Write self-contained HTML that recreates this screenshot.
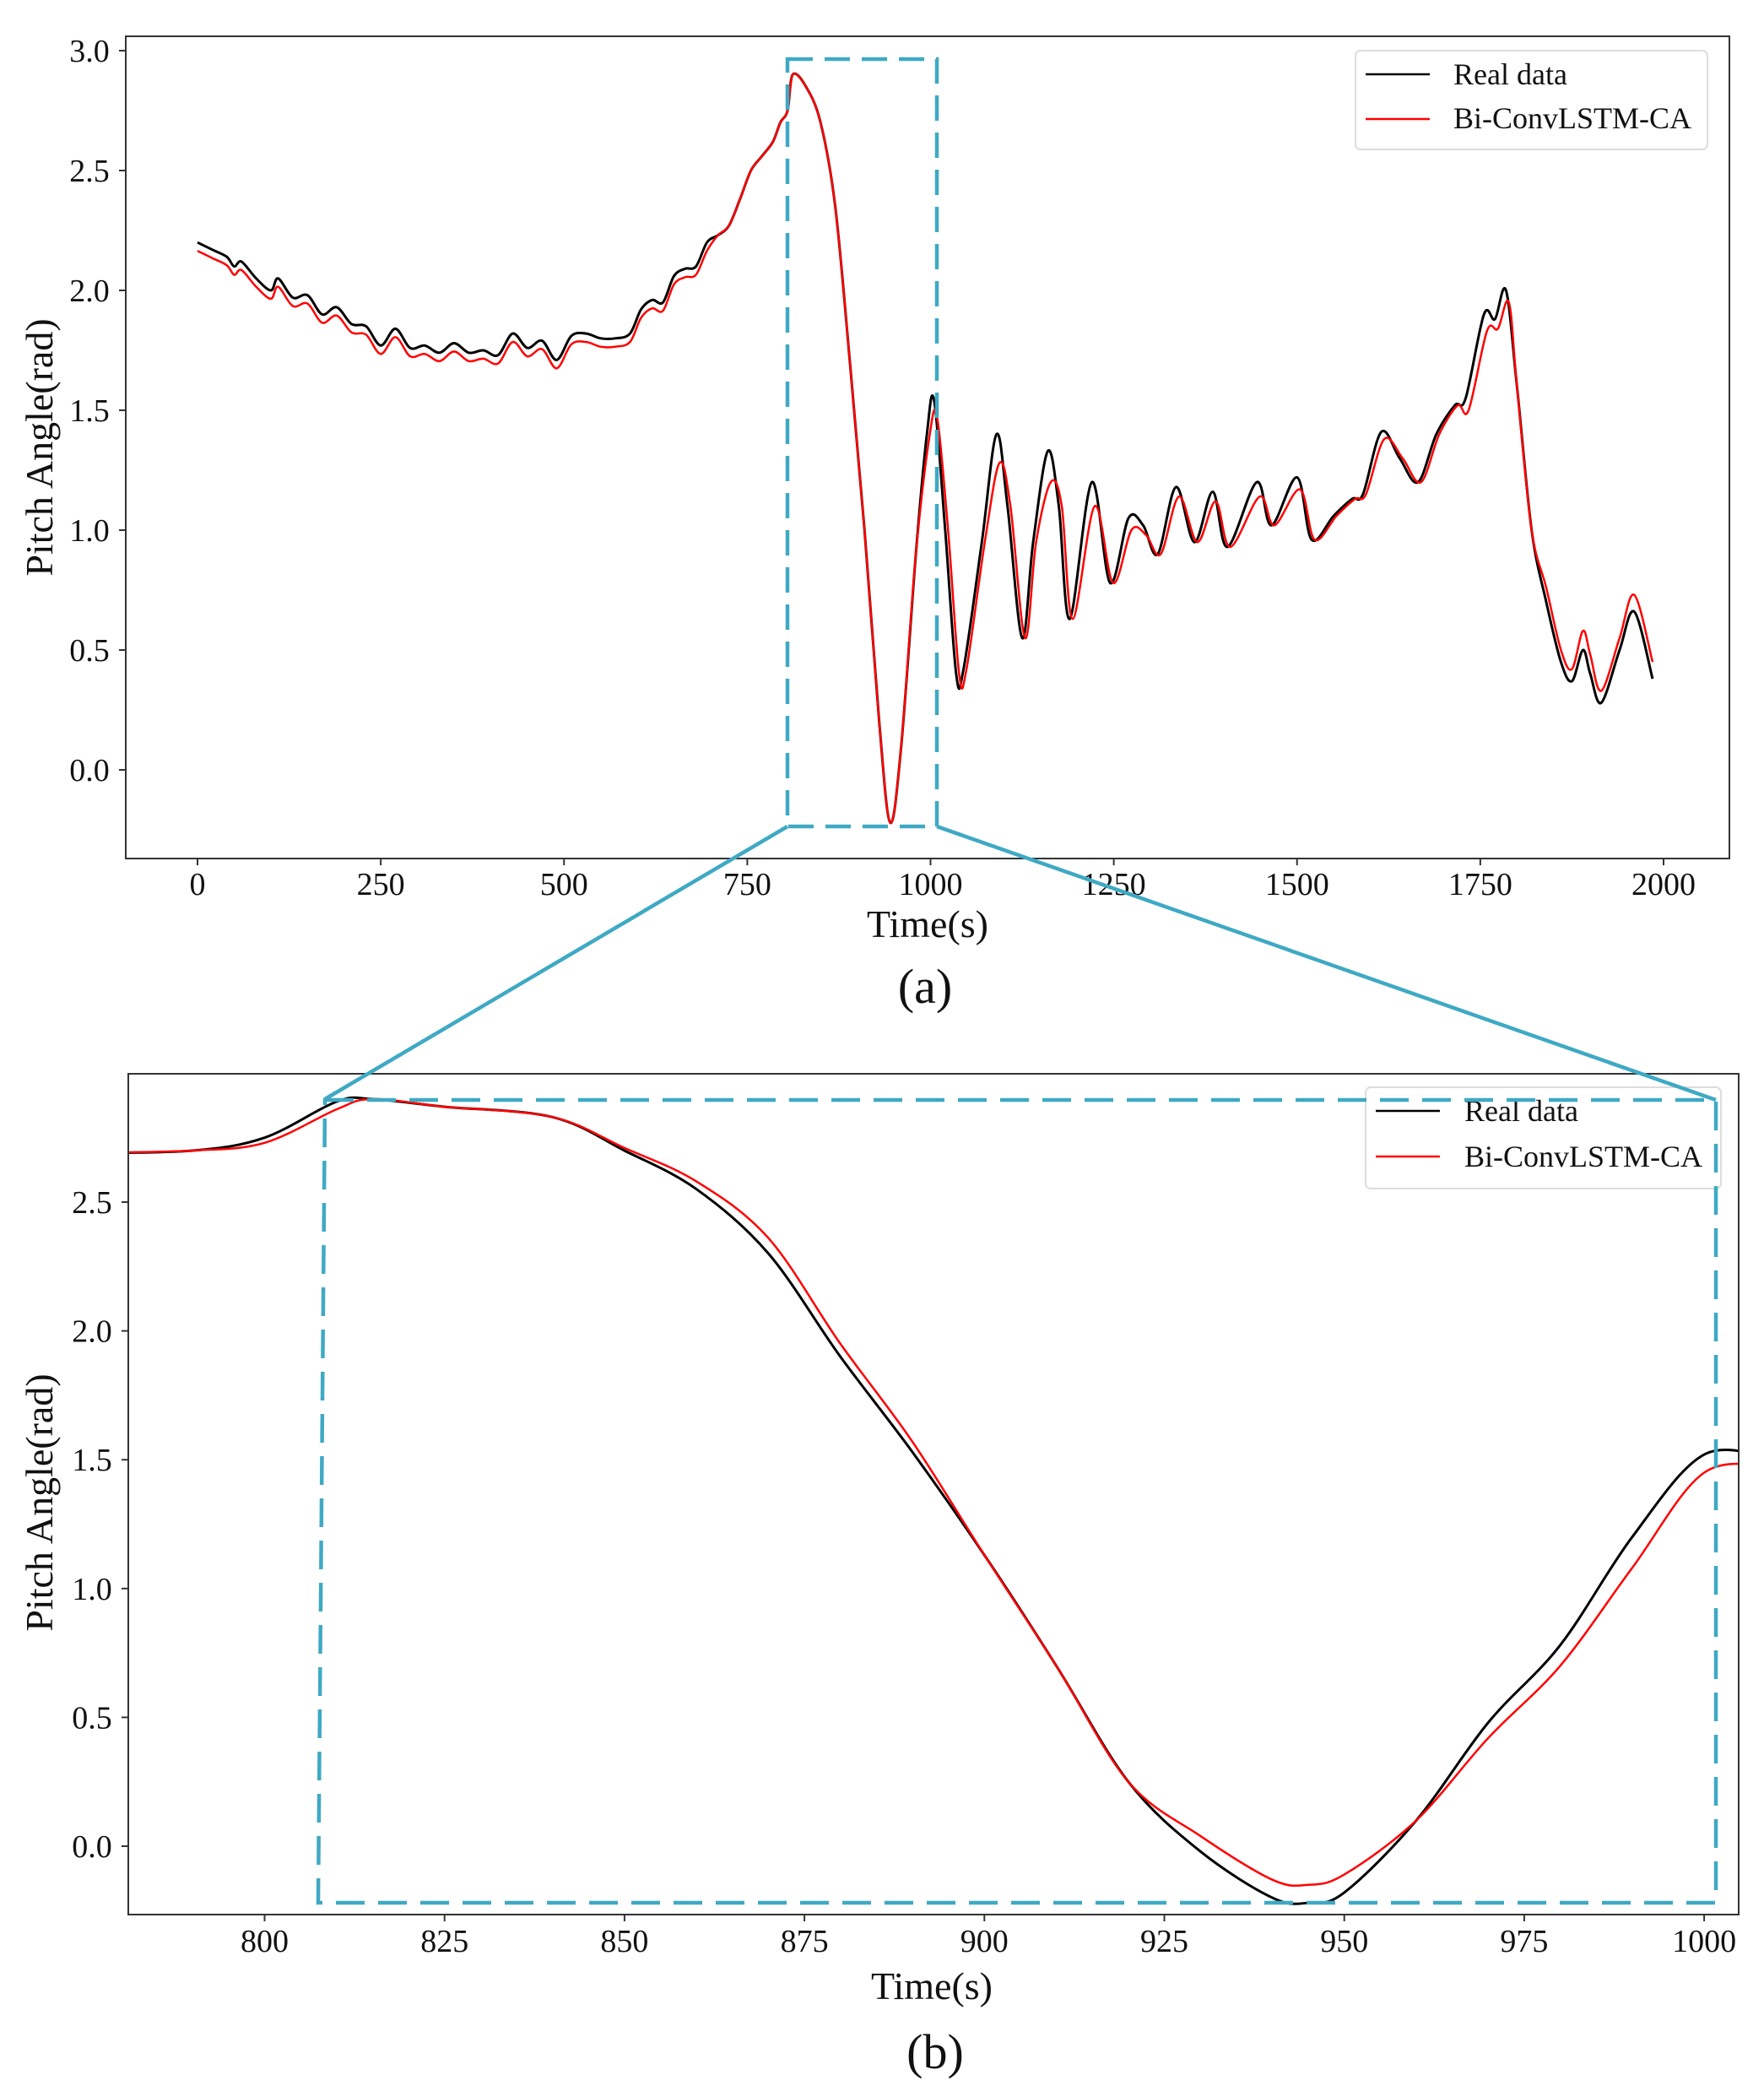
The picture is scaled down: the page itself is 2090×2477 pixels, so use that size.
<!DOCTYPE html>
<html><head><meta charset="utf-8"><style>
html,body{margin:0;padding:0;background:#fff}
svg{display:block}
text{font-family:"Liberation Serif",serif;fill:#111}
</style></head><body>
<svg id="s" width="2090" height="2477" viewBox="0 0 2090 2477" xmlns="http://www.w3.org/2000/svg">
<defs>
<clipPath id="ca"><rect x="149" y="43" width="1900" height="974"/></clipPath>
<clipPath id="cb"><rect x="152" y="1272" width="1908" height="996"/></clipPath>
</defs>
<rect width="2090" height="2477" fill="#fff"/>
<g id="ga" clip-path="url(#ca)"></g>
<rect x="149" y="43" width="1900" height="974" fill="none" stroke="#333" stroke-width="2"/>
<g id="ta" font-size="38" text-anchor="middle"></g>
<text x="1099" y="1110" font-size="46" text-anchor="middle">Time(s)</text>
<text x="62" y="530" font-size="46" text-anchor="middle" transform="rotate(-90 62 530)">Pitch Angle(rad)</text>
<text x="1096" y="1188" font-size="58" text-anchor="middle">(a)</text>
<rect x="1606" y="60" width="417" height="117" rx="6" fill="#fff" stroke="#ddd" stroke-width="2"/>
<line x1="1618" y1="88" x2="1694" y2="88" stroke="#000" stroke-width="2.5"/>
<line x1="1618" y1="141" x2="1694" y2="141" stroke="#f00" stroke-width="2.5"/>
<text x="1722" y="100" font-size="36">Real data</text>
<text x="1722" y="152" font-size="36">Bi-ConvLSTM-CA</text>
<g id="gb" clip-path="url(#cb)"></g>
<rect x="152" y="1272" width="1908" height="996" fill="none" stroke="#333" stroke-width="2"/>
<g id="tb" font-size="38" text-anchor="middle"></g>
<text x="1104" y="2368" font-size="46" text-anchor="middle">Time(s)</text>
<text x="62" y="1780" font-size="46" text-anchor="middle" transform="rotate(-90 62 1780)">Pitch Angle(rad)</text>
<text x="1108" y="2450" font-size="58" text-anchor="middle">(b)</text>
<rect x="1618" y="1288" width="421" height="120" rx="6" fill="#fff" stroke="#ddd" stroke-width="2"/>
<line x1="1630" y1="1316" x2="1706" y2="1316" stroke="#000" stroke-width="2.5"/>
<line x1="1630" y1="1370" x2="1706" y2="1370" stroke="#f00" stroke-width="2.5"/>
<text x="1735" y="1328" font-size="36">Real data</text>
<text x="1735" y="1382" font-size="36">Bi-ConvLSTM-CA</text>
<rect x="933" y="70" width="177" height="909" fill="none" stroke="#3fa9c4" stroke-width="4.5" stroke-dasharray="30,14"/>
<line x1="933" y1="979" x2="385" y2="1302" stroke="#3fa9c4" stroke-width="4.5"/>
<line x1="1110" y1="979" x2="2033" y2="1303" stroke="#3fa9c4" stroke-width="4.5"/>
<path d="M385 1303 L2033 1303 L2033 2254 L377 2254 Z" fill="none" stroke="#3fa9c4" stroke-width="4.5" stroke-dasharray="34,16"/>
</svg>
<script>
var NS="http://www.w3.org/2000/svg";
function el(p,t,a,txt){var e=document.createElementNS(NS,t);for(var k in a)e.setAttribute(k,a[k]);if(txt!==undefined)e.textContent=txt;p.appendChild(e);return e;}
function path(pts,fx,fy){var P=pts.map(function(p){return [fx(p[0]),fy(p[1])]});var d="M"+P[0][0].toFixed(1)+" "+P[0][1].toFixed(1);
for(var i=0;i<P.length-1;i++){var p0=P[i-1]||P[i],p1=P[i],p2=P[i+1],p3=P[i+2]||p2;
var c1=[p1[0]+(p2[0]-p0[0])/6,p1[1]+(p2[1]-p0[1])/6],c2=[p2[0]-(p3[0]-p1[0])/6,p2[1]-(p3[1]-p1[1])/6];
d+=" C"+c1[0].toFixed(1)+" "+c1[1].toFixed(1)+" "+c2[0].toFixed(1)+" "+c2[1].toFixed(1)+" "+p2[0].toFixed(1)+" "+p2[1].toFixed(1);}return d;}
var realA=[[0,2.2],[20,2.17],[40,2.14],[50,2.1],[60,2.12],[80,2.05],[100,2.0],[110,2.05],[130,1.97],[150,1.98],[170,1.9],[190,1.93],[210,1.86],[230,1.85],[250,1.77],[270,1.84],[290,1.76],[310,1.77],[330,1.74],[350,1.78],[370,1.74],[390,1.75],[410,1.73],[430,1.82],[450,1.76],[470,1.79],[490,1.71],[510,1.81],[530,1.82],[550,1.8],[570,1.8],[590,1.82],[605,1.92],[620,1.96],[635,1.95],[650,2.06],[665,2.09],[680,2.1],[695,2.2],[710,2.23],[725,2.27],[740,2.38],[755,2.5],[770,2.56],[785,2.62],[795,2.7],[805,2.75],[812,2.9],[830,2.85],[850,2.7],[870,2.35],[890,1.7],[910,1.0],[930,0.2],[945,-0.22],[960,0.1],[980,0.9],[995,1.4],[1005,1.54],[1020,1.0],[1035,0.4],[1045,0.42],[1070,0.95],[1090,1.4],[1105,1.1],[1125,0.55],[1140,0.95],[1160,1.33],[1175,1.1],[1190,0.63],[1220,1.2],[1245,0.78],[1270,1.05],[1290,1.02],[1310,0.9],[1335,1.18],[1360,0.95],[1385,1.16],[1405,0.93],[1445,1.2],[1465,1.02],[1500,1.22],[1520,0.96],[1550,1.06],[1575,1.13],[1590,1.15],[1615,1.41],[1640,1.3],[1665,1.2],[1690,1.4],[1715,1.52],[1730,1.55],[1755,1.9],[1770,1.88],[1785,2.0],[1800,1.6],[1820,1.0],[1840,0.7],[1860,0.45],[1875,0.37],[1890,0.5],[1900,0.4],[1915,0.28],[1940,0.5],[1960,0.66],[1985,0.38]];
var mod={1005:1.47,1090:1.28,1160:1.2,1220:1.1,1270:1.0,1290:0.98,1335:1.14,1385:1.12,1445:1.14,1500:1.17,1615:1.38,1730:1.5,1755:1.83,1770:1.84,1785:1.95,1840:0.76,1860:0.5,1875:0.42,1890:0.58,1900:0.48,1915:0.33,1940:0.55,1960:0.73,1985:0.45};
var redA=realA.map(function(p){var t=p[0],v=p[1];if(mod[t]!==undefined)v=mod[t];else if(t<700)v-=0.035;return [t+(t>980&&t<1800?4:0),v];});
var fxa=function(t){return 234+t*0.8685},fya=function(v){return 912-v*284};
var ga=document.getElementById("ga");
el(ga,"path",{d:path(realA,fxa,fya),fill:"none",stroke:"#000","stroke-width":3});
el(ga,"path",{d:path(redA,fxa,fya),fill:"none",stroke:"#f00","stroke-width":2.5});
var ta=document.getElementById("ta");
[0,250,500,750,1000,1250,1500,1750,2000].forEach(function(t){var x=fxa(t);el(ta,"line",{x1:x,y1:1017,x2:x,y2:1025,stroke:"#333","stroke-width":2});el(ta,"text",{x:x,y:1060},""+t);});
[0,0.5,1,1.5,2,2.5,3].forEach(function(v){var y=fya(v);el(ta,"line",{x1:141,y1:y,x2:149,y2:y,stroke:"#333","stroke-width":2});el(ta,"text",{x:106,y:y+13},v.toFixed(1));});
var realB=[[775,2.69],[790,2.70],[800,2.75],[810,2.89],[815,2.9],[825,2.87],[840,2.83],[850,2.7],[860,2.55],[870,2.3],[880,1.9],[890,1.53],[900,1.13],[910,0.7],[920,0.25],[930,-0.02],[940,-0.2],[945,-0.22],[950,-0.18],[960,0.1],[970,0.48],[980,0.78],[990,1.2],[1000,1.52],[1010,1.5]];
var redB=[[775,2.69],[790,2.70],[800,2.73],[810,2.86],[815,2.9],[825,2.87],[840,2.83],[850,2.71],[860,2.58],[870,2.36],[880,1.95],[890,1.57],[900,1.13],[910,0.7],[920,0.25],[930,0.04],[940,-0.13],[945,-0.15],[950,-0.11],[960,0.1],[970,0.42],[980,0.7],[990,1.08],[1000,1.45],[1010,1.47]];
var fxb=function(t){return 313.5+(t-800)*8.528},fyb=function(v){return 2187-v*305.2};
var gb=document.getElementById("gb");
el(gb,"path",{d:path(realB,fxb,fyb),fill:"none",stroke:"#000","stroke-width":3});
el(gb,"path",{d:path(redB,fxb,fyb),fill:"none",stroke:"#f00","stroke-width":2.5});
var tb=document.getElementById("tb");
[800,825,850,875,900,925,950,975,1000].forEach(function(t){var x=fxb(t);el(tb,"line",{x1:x,y1:2268,x2:x,y2:2276,stroke:"#333","stroke-width":2});el(tb,"text",{x:x,y:2312},""+t);});
[0,0.5,1,1.5,2,2.5].forEach(function(v){var y=fyb(v);el(tb,"line",{x1:144,y1:y,x2:152,y2:y,stroke:"#333","stroke-width":2});el(tb,"text",{x:109,y:y+13},v.toFixed(1));});
</script>
</body></html>
